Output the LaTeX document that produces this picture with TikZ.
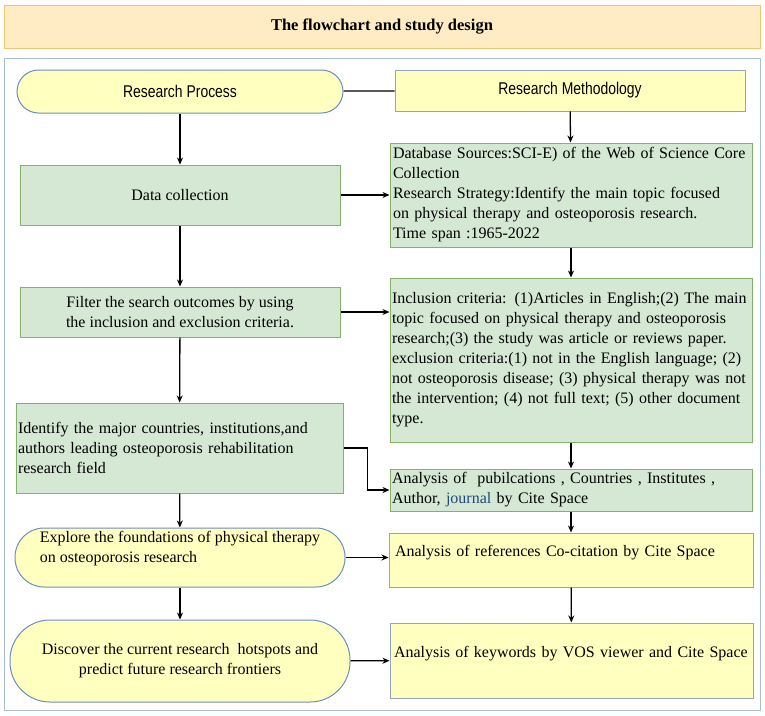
\documentclass[tikz,border=0pt]{standalone}
\usepackage{fontspec}
\setmainfont{Liberation Serif}
\newfontfamily\narrowsans[FakeStretch=0.82]{Liberation Sans}
\usetikzlibrary{arrows.meta}
\definecolor{titlefill}{RGB}{255,236,196}
\definecolor{titleline}{RGB}{240,198,112}
\definecolor{frameline}{RGB}{170,190,212}
\definecolor{paleyellow}{RGB}{255,255,192}
\definecolor{pillline}{RGB}{108,142,191}
\definecolor{yellowline}{RGB}{150,166,186}
\definecolor{palegreen}{RGB}{213,232,212}
\definecolor{greenline}{RGB}{130,179,102}
\definecolor{journalblue}{RGB}{31,73,125}
\begin{document}
\begin{tikzpicture}[x=1pt,y=-1pt,
    every node/.style={font=\fontsize{16}{20}\selectfont,inner sep=2pt},
    titlebox/.style={draw=titleline,fill=titlefill,line width=1pt,
      minimum width=756pt,minimum height=43pt,font=\fontsize{16.5}{20}\selectfont\bfseries},
    pill/.style={draw=pillline,fill=paleyellow,line width=1pt,rectangle},
    yellowbox/.style={draw=yellowline,fill=paleyellow,line width=1pt},
    greenbox/.style={draw=greenline,fill=palegreen,line width=1pt},
    flow/.style={-{Stealth[length=7pt,width=6pt]},line width=1.3pt}]
  \useasboundingbox (0,0) rectangle (765,715);
  \draw[frameline,line width=1pt] (4,58) rectangle (760,710);
  \draw
    (382,26.5) node[titlebox] (title){The flowchart and study design}
    (180,91.5) node[pill,rounded corners=21.5pt,minimum width=326pt,minimum height=43pt,
      font=\fontsize{17}{20}\narrowsans] (process){Research Process}
    (570,90.5) node[yellowbox,minimum width=350pt,minimum height=41pt,
      font=\fontsize{17}{20}\narrowsans] (method){Research Methodology}
    (180,195) node[greenbox,minimum width=320pt,minimum height=60pt] (collect){Data collection}
    (571,195) node[greenbox,text width=356pt,inner xsep=3pt,minimum height=104pt,align=left] (sources)
      {Database Sources:SCI-E) of the Web of Science Core\\Collection\\
       Research Strategy:Identify the main topic focused\\
       on physical therapy and osteoporosis research.\\Time span :1965-2022}
    (180,312) node[greenbox,minimum width=320pt,minimum height=50pt,align=center] (filter)
      {Filter the search outcomes by using\\the inclusion and exclusion criteria.}
    (571,360) node[greenbox,text width=358pt,inner xsep=2pt,minimum height=164pt,align=left] (criteria)
      {Inclusion criteria: (1)Articles in English;(2) The main\\
       topic focused on physical therapy and osteoporosis\\
       research;(3) the study was article or reviews paper.\\
       exclusion criteria:(1) not in the English language; (2)\\
       not osteoporosis disease; (3) physical therapy was not\\
       the intervention; (4) not full text; (5) other document\\type.}
    (179.5,448) node[greenbox,text width=323pt,minimum height=90pt,align=left] (identify)
      {Identify the major countries, institutions,and\\
       authors leading osteoporosis rehabilitation\\research field}
    (571,490) node[greenbox,text width=358pt,inner xsep=2pt,minimum height=42pt,align=left] (pubs)
      {Analysis of\ \ pubilcations , Countries , Institutes ,\\
       Author, \textcolor{journalblue}{journal} by Cite Space}
    (180,557.5) node[pill,rounded corners=29pt,minimum width=330pt,minimum height=59pt,align=left] (explore)
      {Explore the foundations of physical therapy\\on osteoporosis research\\[1pt]\mbox{}}
    (571,560) node[yellowbox,text width=352pt,inner xsep=6pt,minimum height=54pt,align=left,
      text height=12pt,text depth=20pt] (cocite){Analysis of references Co-citation by Cite Space}
    (180,661) node[pill,rounded corners=40pt,minimum width=340pt,minimum height=82pt,align=center] (discover)
      {Discover the current research\ \ hotspots and\\predict future research frontiers}
    (571.5,660.5) node[yellowbox,text width=355pt,inner xsep=4pt,minimum height=75pt,align=left,
      text height=12pt,text depth=19pt] (keywords){Analysis of keywords by VOS viewer and Cite Space};
  \draw[line width=1.3pt] (process) to (method);
  \begin{scope}[flow]
    \draw (process) to (collect);
    \draw (method) to (sources);
    \draw (collect) to (sources);
    \draw (collect) to (filter);
    \draw (sources) to (criteria);
    \draw (filter.east) to (filter.east -| criteria.west);
    \draw (filter) to (identify);
    \draw (criteria) to (pubs);
    \draw (identify.east) -- ++(24,0) |- (pubs.west);
    \draw (identify) to (explore);
    \draw (pubs) to (cocite);
    \draw (explore.east) to (explore.east -| cocite.west);
    \draw (explore) to (discover);
    \draw (cocite) to (keywords);
    \draw (discover) to (keywords);
  \end{scope}
\end{tikzpicture}
\end{document}
